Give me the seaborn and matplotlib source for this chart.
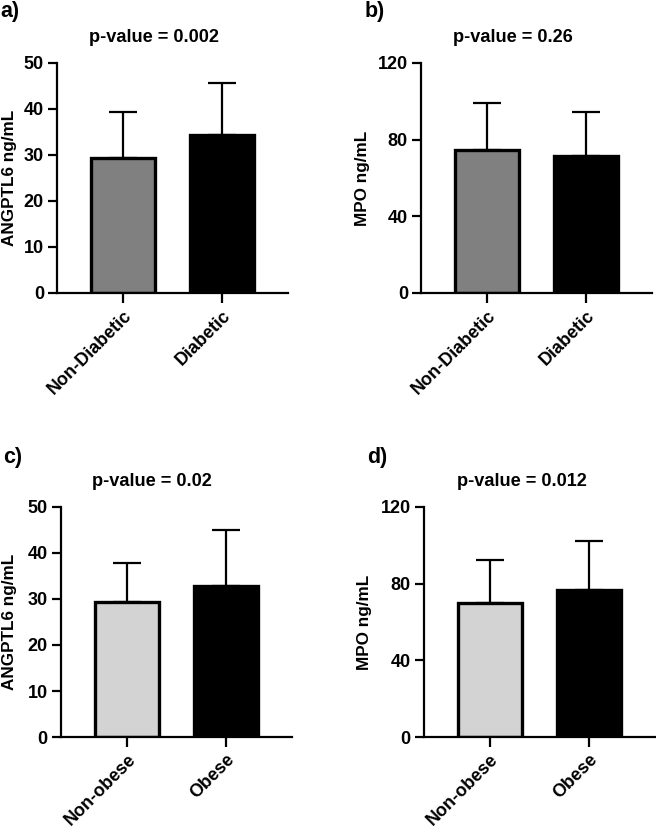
import matplotlib
matplotlib.use("Agg")
import matplotlib.pyplot as plt
import seaborn as sns
import pandas as pd

# data (mean, upper SD whisker)
diab_groups = ["Non-Diabetic", "Diabetic"]
obese_groups = ["Non-obese", "Obese"]

angptl6_diab_mean = [29.3, 34.4]
angptl6_diab_sd = [10.1, 11.2]
mpo_diab_mean = [74.6, 71.5]
mpo_diab_sd = [24.5, 22.9]

angptl6_obese_mean = [29.3, 32.8]
angptl6_obese_sd = [8.5, 12.2]
mpo_obese_mean = [69.7, 76.5]
mpo_obese_sd = [22.5, 25.7]

diab_colors = ["#808080", "#000000"]
obese_colors = ["#d3d3d3", "#000000"]

sns.set_style("ticks")
plt.rcParams["font.family"] = ["Liberation Sans", "DejaVu Sans"]
plt.rcParams["font.weight"] = "bold"
for k in ["text.color", "axes.labelcolor", "xtick.color", "ytick.color", "axes.edgecolor"]:
    plt.rcParams[k] = "black"

fig = plt.figure(figsize=(6.56, 8.34), dpi=100)

panels = [
    # label, groups, mean, sd, colors, ylabel, ymax, yticks, p, axes rect, label x, title x, panel label xy
    ("a)", diab_groups, angptl6_diab_mean, angptl6_diab_sd, diab_colors, "ANGPTL6 ng/mL", 50,
     [0, 10, 20, 30, 40, 50], "p-value = 0.002", [0.087, 0.6487, 0.352, 0.2758], -0.173, 154, (0, 12)),
    ("b)", diab_groups, mpo_diab_mean, mpo_diab_sd, diab_colors, "MPO ng/mL", 120,
     [0, 40, 80, 120], "p-value = 0.26", [0.642, 0.6487, 0.352, 0.2758], -0.22, 513, (365, 12)),
    ("c)", obese_groups, angptl6_obese_mean, angptl6_obese_sd, obese_colors, "ANGPTL6 ng/mL", 50,
     [0, 10, 20, 30, 40, 50], "p-value = 0.02", [0.093, 0.1163, 0.352, 0.2758], -0.19, 152, (3, 457)),
    ("d)", obese_groups, mpo_obese_mean, mpo_obese_sd, obese_colors, "MPO ng/mL", 120,
     [0, 40, 80, 120], "p-value = 0.012", [0.646, 0.1163, 0.352, 0.2758], -0.225, 522, (367, 457)),
]

for lab, groups, mean, sd, colors, ylabel, ymax, yticks, ptxt, rect, lx, tx, pxy in panels:
    ax = fig.add_axes(rect)
    df = pd.DataFrame({"group": groups, "value": mean})
    ax.errorbar(x=[0, 1], y=mean, yerr=[[0, 0], sd], fmt="none", ecolor="black",
                elinewidth=1.6, capsize=10, capthick=1.6, zorder=1)
    sns.barplot(data=df, x="group", y="value", hue="group", palette=colors, legend=False,
                errorbar=None, width=0.65, edgecolor="black", linewidth=2.4, ax=ax, zorder=2)
    ax.set_xlim(-0.667, 1.667)
    ax.set_ylim(0, ymax)
    ax.set_yticks(yticks)
    ax.set_xlabel("")
    ax.set_ylabel(ylabel, fontsize=12.3, fontweight="bold")
    ax.yaxis.set_label_coords(lx, 0.5)
    sns.despine(ax=ax)
    for s in ["left", "bottom"]:
        ax.spines[s].set_linewidth(1.6)
    ax.tick_params(axis="y", length=6.5, width=1.6, labelsize=13, pad=3)
    ax.tick_params(axis="x", length=7, width=1.6, labelsize=13, pad=3)
    for t in ax.get_xticklabels():
        t.set_rotation(45)
        t.set_ha("right")
        t.set_rotation_mode("anchor")
        t.set_fontweight("bold")
    for t in ax.get_yticklabels():
        t.set_fontweight("bold")
    ax.patch.set_alpha(0)
    # title and panel label in pixel positions
    top_px = (1 - rect[1] - rect[3]) * 834
    fig.text(tx / 656, 1 - (top_px - 25) / 834, ptxt, ha="center", va="center",
             fontsize=13.1, fontweight="bold")
    fig.text(pxy[0] / 656, 1 - pxy[1] / 834, lab, ha="left", va="center",
             fontsize=15.5, fontweight="bold")

fig.savefig("out.png", dpi=100)
